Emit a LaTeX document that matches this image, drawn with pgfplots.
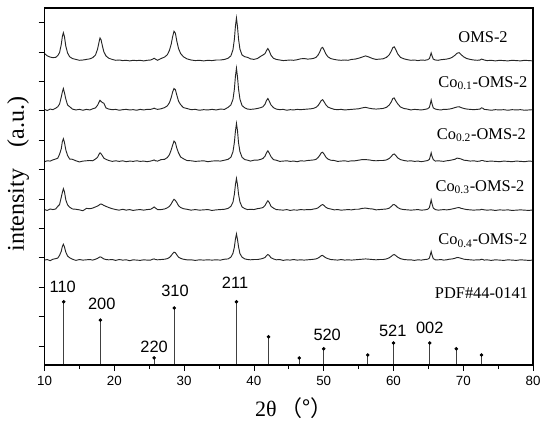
\documentclass[border=0pt]{standalone}
\usepackage{fontspec}
\setmainfont{Liberation Serif}
\newfontfamily\arial{Liberation Sans}
\newfontfamily\cjk{Noto Sans CJK SC}
\usepackage{pgfplots}
\usepackage{pgfplotstable}
\pgfplotsset{compat=1.18}

% relative intensities above each trace's baseline
\pgfplotstableread{
x a b c d e
10.0 .25 .03 .00 .03 .01
10.4 .17 -.01 .03 .00 .03
10.8 .13 .04 .02 .05 -.01
11.2 .11 .02 .06 .03 .04
11.6 .12 .07 .09 .05 .06
11.9 .18 .12 .12 .14 .08
12.15 .28 .21 .25 .20 .17
12.4 .56 .45 .44 .45 .31
12.55 .82 .62 .68 .61 .47
12.7 .96 .74 .78 .74 .55
12.85 .83 .60 .66 .64 .46
13.05 .50 .38 .40 .36 .28
13.3 .27 .18 .21 .19 .15
13.6 .14 .12 .09 .11 .09
14.0 .08 .04 .08 .05 .04
14.5 .05 .01 .03 .04 .00
15.0 .02 .03 -.01 .02 .03
15.5 .03 .00 .02 -.01 .01
16.0 .05 .03 .03 .07 .02
16.5 .07 .01 .04 .06 .03
16.9 .11 .05 .03 .08 .01
17.3 .20 .08 .09 .12 .04
17.6 .40 .17 .15 .15 .07
17.8 .63 .27 .25 .18 .10
17.95 .78 .34 .30 .21 .12
18.1 .72 .30 .27 .22 .11
18.3 .50 .26 .20 .20 .08
18.5 .31 .24 .12 .17 .05
18.8 .17 .08 .08 .14 .03
19.2 .09 .04 .04 .10 .02
19.7 .05 .02 .01 .06 .03
20.2 .02 .03 .03 .03 .00
20.7 .03 .00 .01 .01 .03
21.2 .01 .02 .03 .04 .01
21.7 .02 .03 .00 .01 .02
22.2 .00 .01 .02 .03 -.01
22.7 .02 .02 .01 .00 .02
23.2 .01 .00 .03 .02 .01
23.7 .02 .03 .01 .03 .00
24.2 .00 .01 .02 .01 .02
24.7 .02 .03 .00 .03 .01
25.2 .03 .03 .02 .04 .01
25.5 .06 .05 .04 .08 .04
25.7 .09 .07 .06 .12 .05
25.9 .06 .05 .03 .08 .03
26.2 .02 .03 .02 .03 .02
26.7 .08 .05 .07 .03 .03
27.2 .13 .09 .08 .05 .04
27.6 .21 .15 .14 .09 .06
27.9 .36 .26 .24 .14 .10
28.15 .57 .43 .40 .22 .16
28.35 .82 .62 .56 .31 .23
28.55 1.01 .74 .70 .38 .28
28.75 .94 .70 .65 .34 .26
28.95 .68 .52 .46 .27 .19
29.2 .42 .31 .30 .16 .11
29.5 .25 .19 .16 .10 .07
29.9 .14 .09 .10 .06 .04
30.4 .07 .06 .04 .04 .02
31.0 .03 .02 .03 .01 .02
31.6 .01 .03 .01 .03 .00
32.2 .02 .00 .02 .01 .02
32.8 .00 .02 .03 .02 .01
33.4 .02 .01 .00 .03 .02
34.0 .01 .03 .02 .00 .01
34.6 .03 .01 .03 .02 .02
35.2 .03 .04 .02 .03 .01
35.8 .05 .03 .05 .04 .04
36.3 .09 .10 .08 .07 .05
36.7 .17 .18 .15 .14 .11
37.0 .38 .37 .34 .28 .24
37.2 .73 .71 .65 .55 .45
37.35 1.17 1.15 1.03 .87 .72
37.5 1.46 1.43 1.30 1.09 .90
37.65 1.16 1.13 1.05 .88 .71
37.8 .74 .72 .64 .55 .46
38.0 .40 .38 .34 .29 .23
38.3 .20 .16 .15 .12 .11
38.7 .14 .08 .07 .06 .05
39.1 .12 .04 .05 .03 .03
39.5 .07 .03 .02 .04 .02
40.0 .05 .04 .05 .03 .03
40.5 .08 .06 .05 .06 .03
41.0 .16 .09 .08 .08 .05
41.3 .20 .12 .11 .10 .07
41.6 .25 .21 .19 .17 .10
41.8 .35 .33 .30 .26 .16
42.0 .42 .40 .37 .33 .20
42.2 .34 .31 .29 .27 .17
42.45 .19 .18 .17 .14 .09
42.8 .09 .09 .07 .08 .05
43.2 .05 .04 .05 .03 .02
43.7 .03 .02 .01 .02 .03
44.2 .01 .03 .02 .01 .00
44.7 .02 .00 .03 .03 .02
45.2 .03 .02 .01 .00 .01
45.7 .02 .01 .02 .02 .03
46.2 .04 .03 .00 .01 .01
46.7 .07 .02 .03 .03 .02
47.2 .08 .03 .02 .02 .01
47.7 .06 .04 .04 .03 .02
48.2 .07 .05 .05 .03 .03
48.6 .09 .07 .06 .05 .04
48.9 .12 .10 .08 .06 .05
49.2 .20 .16 .14 .09 .08
49.45 .31 .25 .22 .14 .12
49.65 .43 .33 .30 .18 .16
49.85 .46 .36 .32 .20 .17
50.05 .37 .29 .26 .17 .13
50.3 .24 .19 .16 .11 .09
50.6 .14 .11 .09 .07 .06
51.0 .08 .07 .05 .05 .03
51.5 .05 .03 .04 .02 .02
52.0 .03 .02 .01 .03 .01
52.5 .02 .03 .02 .01 .03
53.0 .03 .01 .03 .02 .01
53.5 .02 .02 .01 .03 .02
54.0 .05 .03 .03 .02 .01
54.5 .06 .04 .03 .04 .02
55.0 .09 .05 .05 .04 .03
55.5 .13 .08 .07 .07 .04
56.0 .17 .10 .07 .08 .05
56.5 .13 .07 .06 .06 .04
57.0 .08 .05 .04 .05 .03
57.5 .05 .04 .03 .02 .02
58.0 .06 .05 .04 .03 .03
58.5 .07 .06 .04 .04 .03
59.0 .12 .10 .06 .05 .05
59.4 .21 .18 .11 .08 .09
59.7 .34 .29 .18 .14 .14
59.9 .45 .40 .24 .19 .18
60.1 .48 .42 .26 .20 .20
60.3 .40 .33 .22 .17 .17
60.6 .24 .22 .13 .10 .11
61.0 .12 .11 .07 .05 .06
61.5 .07 .06 .04 .03 .03
62.0 .04 .04 .02 .02 .02
62.5 .02 .01 .03 .01 .02
63.0 .03 .03 .01 .02 .00
63.5 .01 .02 .02 .03 .02
64.0 .03 .01 .00 .01 .01
64.5 .02 .03 .02 .02 .03
64.9 .04 .05 .04 .04 .04
65.15 .08 .10 .08 .10 .08
65.3 .19 .24 .21 .25 .21
65.4 .27 .35 .30 .36 .30
65.5 .19 .24 .20 .25 .20
65.7 .06 .08 .07 .08 .06
66.0 .03 .04 .02 .03 .02
66.4 .02 .02 .03 .01 .02
66.8 .04 .01 .02 .02 .03
67.2 .05 .03 .01 .03 .01
67.6 .06 .03 .03 .02 .02
68.0 .08 .04 .04 .03 .04
68.4 .12 .06 .06 .05 .05
68.8 .19 .09 .08 .07 .07
69.1 .26 .11 .12 .09 .10
69.4 .28 .12 .11 .10 .09
69.7 .21 .09 .09 .07 .07
70.1 .13 .06 .05 .05 .04
70.5 .08 .04 .04 .03 .03
71.0 .05 .03 .02 .02 .02
71.5 .03 .02 .03 .01 .01
72.0 .02 .03 .01 .02 .02
72.4 .03 .04 .02 .02 .02
72.6 .06 .08 .04 .04 .04
72.8 .05 .07 .04 .03 .03
73.0 .03 .03 .02 .02 .01
73.4 .01 .02 .01 .01 .02
74.0 .02 .00 .02 .02 .00
74.6 .00 .02 .01 .00 .02
75.2 .02 .01 .00 .02 .01
75.8 .01 .02 .02 .01 .00
76.4 .00 .00 .01 .02 .02
77.0 .02 .02 .00 .00 .01
77.6 .01 .01 .02 .01 .00
78.2 .00 .02 .01 .02 .02
78.8 .02 .00 .00 .01 .01
79.4 .01 .01 .02 .00 .00
80.0 .00 .02 .01 .02 .01
}\xrd

\begin{document}
\begin{tikzpicture}
\begin{axis}[
    name=xrdax,
    scale only axis,
    width=366.4pt, height=267.75pt,
    xmin=10, xmax=80, ymin=0.35, ymax=12.5,
    xtick={10,20,...,80},
    minor xtick={15,25,...,75},
    ytick={1,...,12},
    yticklabels={},
    tick pos=left,
    tick align=outside,
    major tick length=4.5pt,
    minor tick length=3pt,
    axis line style={line width=1.1pt},
    every tick/.style={black, line width=0.6pt},
    /pgf/number format/assume math mode=true,
    ticklabel style={font=\arial\fontsize{10}{12}\selectfont},
    xlabel={2θ\hspace{0.15em}\cjk{（°）}},
    xlabel style={font=\fontsize{16.5}{18}\selectfont, at={(axis description cs:0.51,-0.12)}, anchor=center},
    ylabel={intensity\hspace{0.9em}(a.u.)},
    ylabel style={font=\fontsize{18}{20}\selectfont, at={(axis description cs:-0.054,0.535)}, anchor=center},
]
    \addplot[black!85, line width=0.7pt] table[x=x, y expr=\thisrow{a}+10.70] {\xrd};
    \addplot[black!85, line width=0.7pt] table[x=x, y expr=\thisrow{b}+9.02] {\xrd};
    \addplot[black!85, line width=0.7pt] table[x=x, y expr=\thisrow{c}+7.27] {\xrd};
    \addplot[black!85, line width=0.7pt] table[x=x, y expr=\thisrow{d}+5.61] {\xrd};
    \addplot[black!85, line width=0.7pt] table[x=x, y expr=\thisrow{e}+3.91] {\xrd};
    % PDF#44-0141 reference lines
    \addplot[ycomb, black!75, line width=0.6pt, mark=*, mark size=1pt, mark options={black}] coordinates {
        (12.75,2.50) (18.0,1.88) (25.7,0.59) (28.6,2.29) (37.5,2.50) (42.1,1.31)
        (46.5,0.59) (50.0,0.90) (56.3,0.69) (60.0,1.10) (65.2,1.10) (69.0,0.90) (72.6,0.69)
    };
    \begin{scope}[every node/.style={font=\arial\fontsize{12.3}{14}\selectfont, inner sep=0pt}]
    \node at (axis cs:12.6,3.00) {110};
    \node at (axis cs:18.2,2.43) {200};
    \node at (axis cs:25.7,0.97) {220};
    \node at (axis cs:28.7,2.87) {310};
    \node at (axis cs:37.3,3.14) {211};
    \node at (axis cs:50.5,1.37) {520};
    \node at (axis cs:59.9,1.51) {521};
    \node at (axis cs:65.2,1.60) {002};
    \end{scope}
    \begin{scope}[every node/.style={font=\fontsize{12.3}{14}\selectfont, inner sep=0pt, anchor=base east}]
    \node at (axis cs:76.4,11.31) {OMS-2};
    \node at (axis cs:79.2,9.81) {Co\textsubscript{0.1}-OMS-2};
    \node at (axis cs:79.0,8.04) {Co\textsubscript{0.2}-OMS-2};
    \node at (axis cs:78.8,6.27) {Co\textsubscript{0.3}-OMS-2};
    \node at (axis cs:79.2,4.44) {Co\textsubscript{0.4}-OMS-2};
    \node at (axis cs:79.3,2.63) {PDF\#44-0141};
    \end{scope}
\end{axis}
\draw[black, line width=1.1pt] (xrdax.south west) rectangle (xrdax.north east);
\path (-33.4pt,-45pt) rectangle (379.1pt,273.75pt);
\end{tikzpicture}
\end{document}
